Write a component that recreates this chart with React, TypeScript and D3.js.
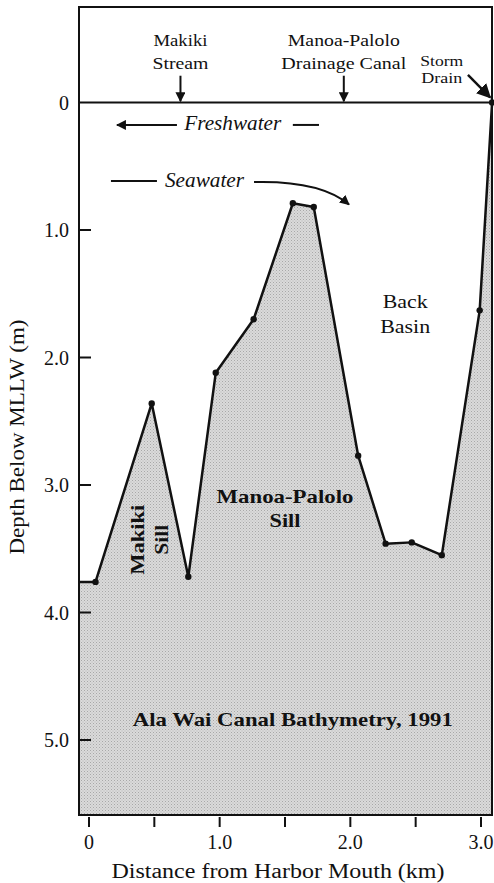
import React from "react";
import * as d3 from "d3";

// Bathymetry profile: distance from harbor mouth (km) and depth below MLLW (m)
const distanceKm = [0.05, 0.48, 0.76, 0.97, 1.26, 1.56, 1.72, 2.06, 2.27, 2.47, 2.70, 2.99, 3.085];
const depthM = [3.76, 2.36, 3.72, 2.12, 1.70, 0.79, 0.82, 2.77, 3.46, 3.45, 3.55, 1.63, 0.0];
const xTicks = [0, 0.5, 1.0, 1.5, 2.0, 2.5, 3.0];
const xTickLabels = ["0", "", "1.0", "", "2.0", "", "3.0"];
const yTicks = [0, 1, 2, 3, 4, 5];
const yTickLabels = ["0", "1.0", "2.0", "3.0", "4.0", "5.0"];

const W = 494;
const H = 883;
const FONT = "'Liberation Serif', 'DejaVu Serif', serif";

export default function App() {
  const x = d3.scaleLinear().domain([0, 3]).range([89, 481]);
  const y = d3.scaleLinear().domain([0, 5]).range([102.5, 740]);
  const frame = { left: 79, top: 7, right: 492, bottom: 815 };
  const xMin = x.invert(frame.left);
  const yMax = y.invert(frame.bottom);

  const pts: [number, number][] = distanceKm.map((d, i) => [d, depthM[i]]);
  const linePts: [number, number][] = [[xMin, depthM[0]], ...pts];
  const line = d3
    .line<[number, number]>()
    .x((d) => x(d[0]))
    .y((d) => y(d[1]));
  const area = d3
    .area<[number, number]>()
    .x((d) => x(d[0]))
    .y0(y(yMax))
    .y1((d) => y(d[1]));

  const txt = (
    label: string,
    cx: number,
    cy: number,
    size: number,
    len: number,
    opts: { bold?: boolean; italic?: boolean; anchor?: string; rotate?: boolean } = {}
  ) => (
    <text
      key={label + cx + cy}
      x={opts.rotate ? 0 : cx}
      y={opts.rotate ? 0 : cy}
      transform={opts.rotate ? `translate(${cx},${cy}) rotate(-90)` : undefined}
      textAnchor={opts.anchor || "middle"}
      fontFamily={FONT}
      fontSize={size}
      fontWeight={opts.bold ? "bold" : "normal"}
      fontStyle={opts.italic ? "italic" : "normal"}
      textLength={len}
      lengthAdjust="spacingAndGlyphs"
      fill="#111"
    >
      {label}
    </text>
  );

  // Seawater curved arrow in data units
  const seaCurve = d3.path();
  seaCurve.moveTo(x(1.263), y(0.624));
  seaCurve.bezierCurveTo(x(1.6), y(0.615), x(1.85), y(0.68), x(1.99), y(0.8));

  return (
    <svg width={W} height={H} style={{ position: "absolute", left: 0, top: 0, background: "#fff" }}>
      <defs>
        <marker id="ah" viewBox="0 0 10 10" refX="9" refY="5" markerWidth="5" markerHeight="5" orient="auto">
          <path d="M0,0 L10,5 L0,10 z" fill="#111" />
        </marker>
        <marker id="ah2" viewBox="0 0 10 10" refX="9" refY="5" markerWidth="6" markerHeight="6" orient="auto">
          <path d="M0,0 L10,5 L0,10 z" fill="#111" />
        </marker>
        <pattern id="stip" width="3" height="3" patternUnits="userSpaceOnUse">
          <rect width="3" height="3" fill="#dadada" />
          <rect x="0" y="0" width="1" height="1" fill="#a8a8a8" />
          <rect x="1.5" y="1.5" width="1" height="1" fill="#b8b8b8" />
        </pattern>
        <clipPath id="clipFrame">
          <rect x={frame.left} y={frame.top} width={frame.right - frame.left} height={frame.bottom - frame.top} />
        </clipPath>
      </defs>

      {/* fill */}
      <path d={area(linePts) || ""} fill="url(#stip)" clipPath="url(#clipFrame)" />

      {/* zero line */}
      <line x1={frame.left} x2={frame.right} y1={y(0)} y2={y(0)} stroke="#111" strokeWidth={2} />

      {/* profile line */}
      <path d={line(linePts) || ""} fill="none" stroke="#111" strokeWidth={2.5} strokeLinejoin="round" />
      {pts.map((p, i) => (
        <circle key={i} cx={x(p[0])} cy={y(p[1])} r={3.2} fill="#111" />
      ))}

      {/* frame */}
      <rect
        x={frame.left}
        y={frame.top}
        width={frame.right - frame.left}
        height={frame.bottom - frame.top}
        fill="none"
        stroke="#111"
        strokeWidth={2}
      />

      {/* y ticks */}
      {yTicks.map((t, i) => (
        <g key={"yt" + i}>
          {t > 0 && <line x1={frame.left} x2={frame.left + 12} y1={y(t)} y2={y(t)} stroke="#111" strokeWidth={2} />}
          <text x={69} y={y(t) + 7} textAnchor="end" fontFamily={FONT} fontSize={20} fill="#111">
            {yTickLabels[i]}
          </text>
        </g>
      ))}

      {/* x ticks */}
      {xTicks.map((t, i) => (
        <g key={"xt" + i}>
          <line x1={x(t)} x2={x(t)} y1={frame.bottom + 2} y2={frame.bottom + 12} stroke="#111" strokeWidth={2} />
          {xTickLabels[i] && (
            <text x={x(t)} y={849} textAnchor="middle" fontFamily={FONT} fontSize={20} fill="#111">
              {xTickLabels[i]}
            </text>
          )}
        </g>
      ))}

      {/* axis titles */}
      {txt("Distance from Harbor Mouth (km)", 278, 878, 20, 333)}
      {txt("Depth Below MLLW (m)", 24, 437, 20, 235, { rotate: true })}

      {/* top annotations */}
      {txt("Makiki", x(0.7), y(-0.44), 17.5, 54)}
      {txt("Stream", x(0.7), y(-0.263), 17.5, 56)}
      <line x1={x(0.7)} x2={x(0.7)} y1={y(-0.21)} y2={y(-0.01)} stroke="#111" strokeWidth={2} markerEnd="url(#ah)" />
      {txt("Manoa-Palolo", x(1.95), y(-0.44), 17.5, 112)}
      {txt("Drainage Canal", x(1.95), y(-0.263), 17.5, 125)}
      <line x1={x(1.95)} x2={x(1.95)} y1={y(-0.21)} y2={y(-0.01)} stroke="#111" strokeWidth={2} markerEnd="url(#ah)" />
      {txt("Storm", x(2.7), y(-0.286), 15, 43)}
      {txt("Drain", x(2.7), y(-0.153), 15, 41)}
      <line x1={x(2.9)} x2={x(3.07)} y1={y(-0.216)} y2={y(-0.04)} stroke="#111" strokeWidth={2.4} markerEnd="url(#ah2)" />

      {/* flow annotations */}
      <line x1={x(0.673)} x2={x(0.214)} y1={y(0.176)} y2={y(0.176)} stroke="#111" strokeWidth={2} markerEnd="url(#ah)" />
      {txt("Freshwater", x(1.1), y(0.216), 20, 97, { italic: true })}
      <line x1={x(1.56)} x2={x(1.76)} y1={y(0.176)} y2={y(0.176)} stroke="#111" strokeWidth={2} />
      <line x1={x(0.168)} x2={x(0.52)} y1={y(0.616)} y2={y(0.616)} stroke="#111" strokeWidth={2} />
      {txt("Seawater", x(0.884), y(0.663), 20, 79, { italic: true })}
      <path d={seaCurve.toString()} fill="none" stroke="#111" strokeWidth={2} markerEnd="url(#ah)" />

      {/* region labels */}
      {txt("Back", x(2.42), y(1.613), 19.5, 45)}
      {txt("Basin", x(2.42), y(1.809), 19.5, 50)}
      {txt("Manoa-Palolo", x(1.5), y(3.14), 19.5, 137, { bold: true })}
      {txt("Sill", x(1.5), y(3.33), 19.5, 31, { bold: true })}
      {txt("Makiki", x(0.42), y(3.43), 19.5, 70, { bold: true, rotate: true })}
      {txt("Sill", x(0.605), y(3.43), 19.5, 30, { bold: true, rotate: true })}
      {txt("Ala Wai Canal Bathymetry, 1991", x(1.56), y(4.89), 19, 320, { bold: true })}
    </svg>
  );
}
